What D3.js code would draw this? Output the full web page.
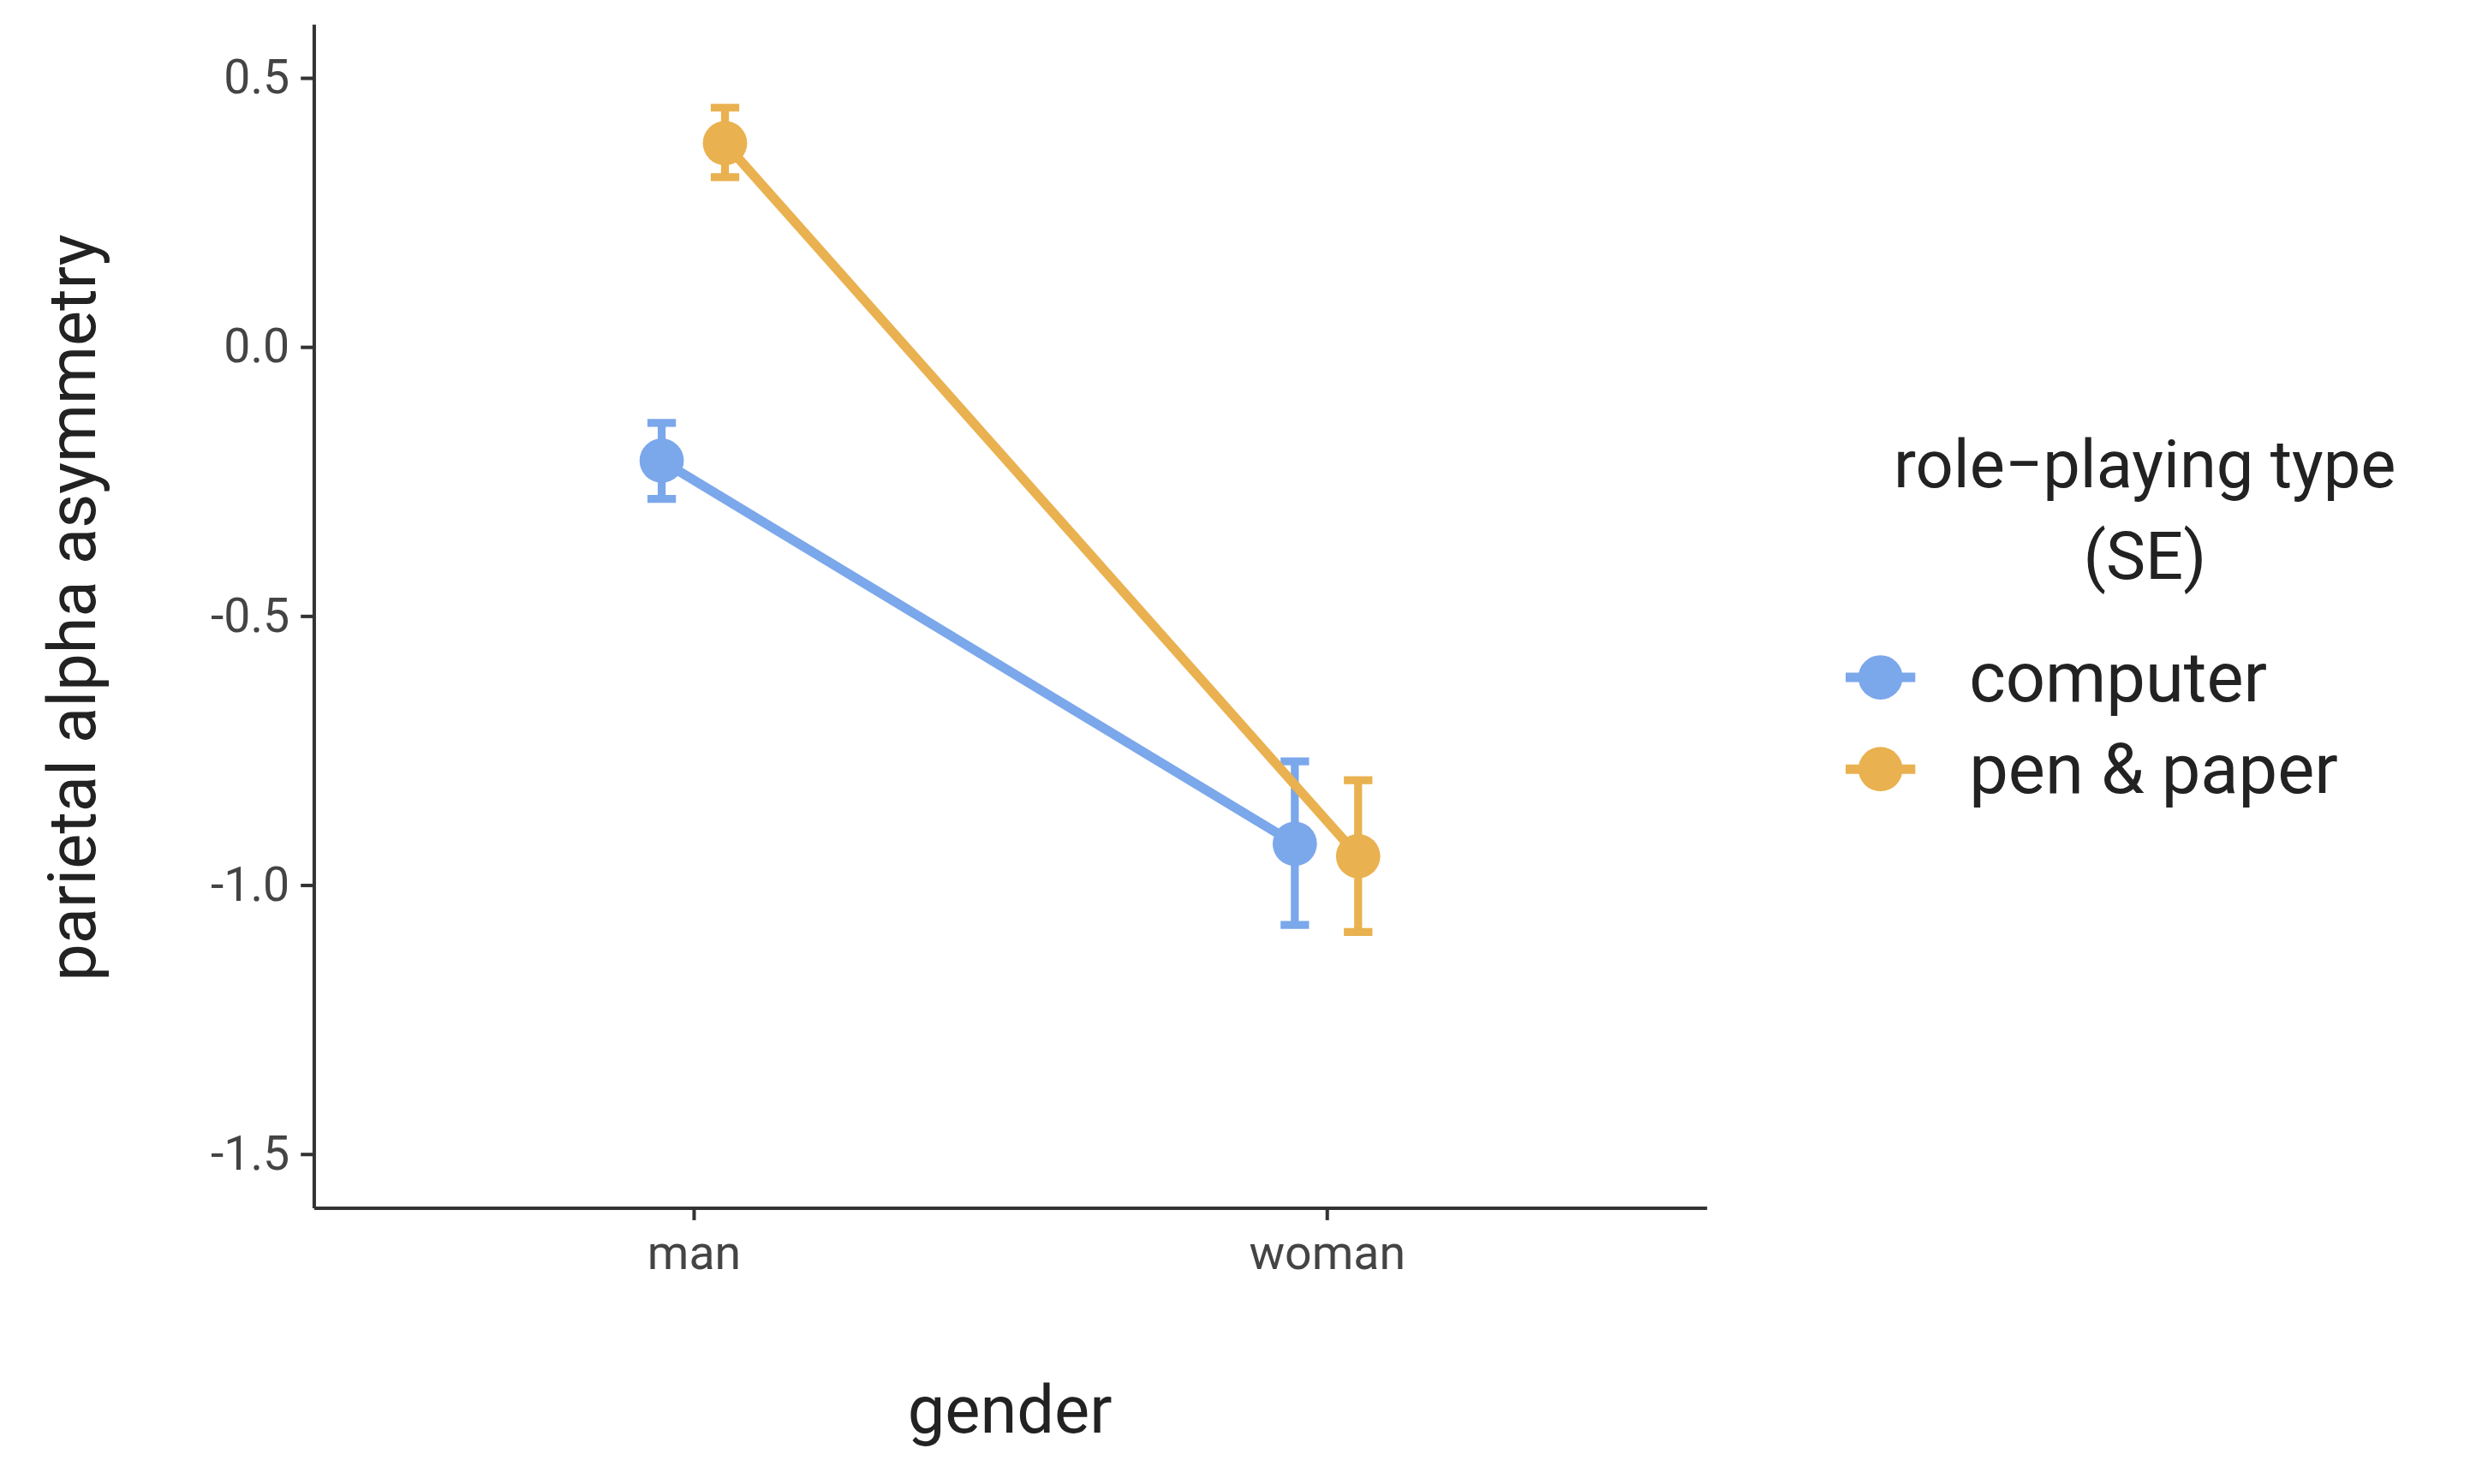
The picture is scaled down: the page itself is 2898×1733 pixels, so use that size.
<!DOCTYPE html>
<html><head><meta charset="utf-8">
<script src="https://cdn.jsdelivr.net/npm/d3@7"></script>
<style>html,body{margin:0;background:#fff}svg{display:block}</style>
</head><body>
<script>
const genders = ["man","woman"];
const seriesNames = ["computer","pen & paper"];
const seriesColors = ["#7BA7EB","#E9B14F"];
const means = [[-0.212,-0.924],[0.378,-0.947]];
const seLow = [[-0.283,-1.075],[0.315,-1.088]];
const seHigh = [[-0.142,-0.771],[0.444,-0.806]];
const yTicks = [0.5,0.0,-0.5,-1.0,-1.5];
const yTickLabels = ["0.5","0.0","-0.5","-1.0","-1.5"];

const W=1568,H=937.7;
const svg=d3.select("body").append("svg").attr("width",2898).attr("height",1733).attr("viewBox",`0 0 ${W} ${H}`);
const L=198,R=1078,T=15,B=763;
const x=d3.scalePoint().domain(genders).range([L,R]).padding(0.6);
const y=d3.scaleLinear().domain([-1.6,0.6]).range([B,T]);
const dodge=[-20,20];
const font="Roboto, 'Liberation Sans', sans-serif";

const ya=svg.append("g").attr("transform",`translate(${L},0)`).call(d3.axisLeft(y).tickValues(yTicks).tickFormat((d,i)=>yTickLabels[i]).tickSize(8).tickSizeOuter(0));
const xa=svg.append("g").attr("transform",`translate(0,${B})`).call(d3.axisBottom(x).tickSize(8).tickSizeOuter(0));
[ya,xa].forEach(a=>{a.select(".domain").attr("stroke","#333").attr("stroke-width",2.2);a.selectAll(".tick line").attr("stroke","#333").attr("stroke-width",2.2);a.selectAll("text").attr("font-family",font).attr("font-size",30).attr("fill","#444");});
ya.selectAll("text").attr("dx",-4);
xa.selectAll("text").attr("dy",28);

svg.append("text").attr("x",(L+R)/2).attr("y",905).attr("text-anchor","middle").attr("font-family",font).attr("font-size",42).attr("fill","#222").text("gender");
svg.append("text").attr("transform",`translate(60,${(T+B)/2-5}) rotate(-90)`).attr("text-anchor","middle").attr("font-family",font).attr("font-size",42).attr("fill","#222").text("parietal alpha asymmetry");

seriesNames.forEach((s,i)=>{
  const g=svg.append("g");
  const pts=genders.map((gd,j)=>({x:x(gd)+dodge[i],m:means[i][j],lo:seLow[i][j],hi:seHigh[i][j]}));
  g.append("path").attr("d",d3.line().x(d=>d.x).y(d=>y(d.m))(pts)).attr("stroke",seriesColors[i]).attr("stroke-width",6).attr("fill","none");
  pts.forEach(d=>{
    g.append("line").attr("x1",d.x).attr("x2",d.x).attr("y1",y(d.lo)).attr("y2",y(d.hi)).attr("stroke",seriesColors[i]).attr("stroke-width",5);
    [d.lo,d.hi].forEach(v=>g.append("line").attr("x1",d.x-9).attr("x2",d.x+9).attr("y1",y(v)).attr("y2",y(v)).attr("stroke",seriesColors[i]).attr("stroke-width",5));
    g.append("circle").attr("cx",d.x).attr("cy",y(d.m)).attr("r",14).attr("fill",seriesColors[i]);
  });
});

const lg=svg.append("g");
lg.append("text").attr("x",1355).attr("y",308).attr("text-anchor","middle").attr("font-family",font).attr("font-size",42).attr("fill","#222").text("role\u2212playing type");
lg.append("text").attr("x",1355).attr("y",366).attr("text-anchor","middle").attr("font-family",font).attr("font-size",42).attr("fill","#222").text("(SE)");
seriesNames.forEach((s,i)=>{
  const cy=428+i*58;
  lg.append("line").attr("x1",1166).attr("x2",1210).attr("y1",cy).attr("y2",cy).attr("stroke",seriesColors[i]).attr("stroke-width",6);
  lg.append("circle").attr("cx",1188).attr("cy",cy).attr("r",14).attr("fill",seriesColors[i]);
  lg.append("text").attr("x",1244).attr("y",cy+15).attr("font-family",font).attr("font-size",44).attr("fill","#222").text(s);
});
</script>
</body></html>
